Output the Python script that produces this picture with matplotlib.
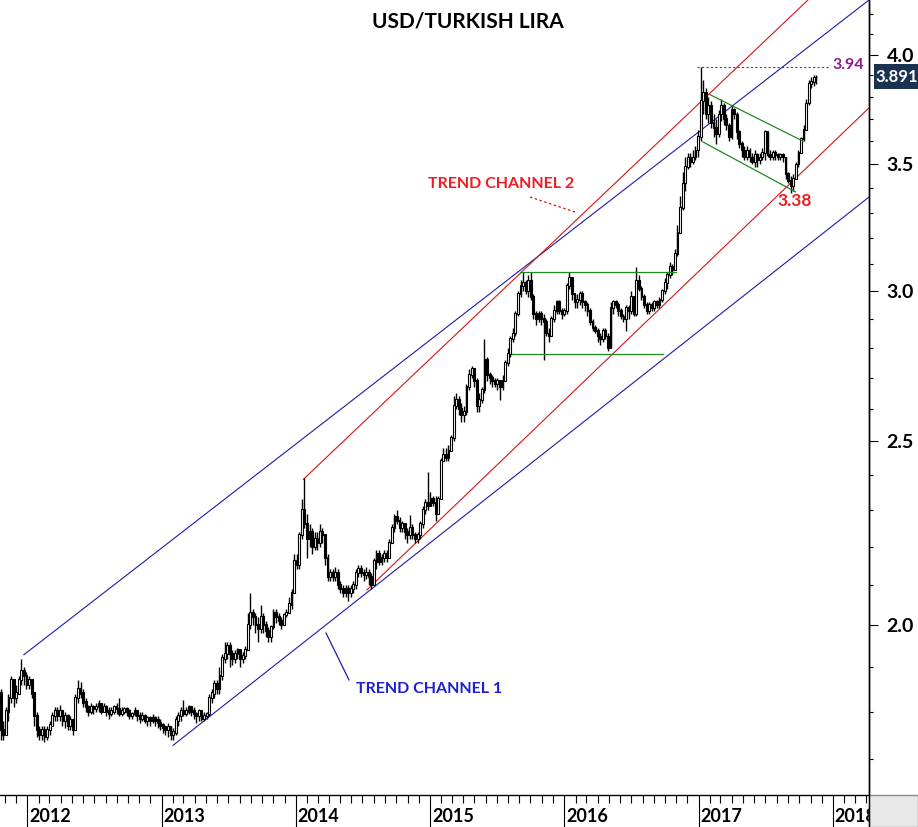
import matplotlib
matplotlib.use("Agg")
import matplotlib.pyplot as plt
import matplotlib.dates as mdates
from matplotlib.lines import Line2D
from matplotlib.patches import Rectangle
from matplotlib.ticker import FixedLocator, FuncFormatter, NullFormatter
import numpy as np
import pandas as pd

plt.rcParams['font.family'] = ['Lato', 'DejaVu Sans']
plt.rcParams['font.weight'] = 'bold'

# weekly USD/TRY candles, first week ending 2011-10-21
first_week = "2011-10-21"
first_open = 1.84
closes = [
    1.76, 1.75, 1.80, 1.83, 1.87, 1.83, 1.84, 1.87, 1.89, 1.88,
    1.86, 1.87, 1.84, 1.79, 1.76, 1.75, 1.76, 1.745, 1.76, 1.77,
    1.79, 1.80, 1.79, 1.80, 1.78, 1.79, 1.77, 1.78, 1.76, 1.83,
    1.85, 1.84, 1.82, 1.81, 1.80, 1.81, 1.805, 1.81, 1.815, 1.80,
    1.81, 1.80, 1.795, 1.80, 1.81, 1.805, 1.795, 1.80, 1.805, 1.80,
    1.79, 1.795, 1.80, 1.79, 1.785, 1.79, 1.78, 1.785, 1.78, 1.785,
    1.78, 1.775, 1.77, 1.765, 1.76, 1.765, 1.75, 1.755, 1.78, 1.79,
    1.80, 1.795, 1.80, 1.81, 1.80, 1.795, 1.79, 1.80, 1.785, 1.79,
    1.795, 1.83, 1.84, 1.86, 1.85, 1.88, 1.92, 1.93, 1.95, 1.93,
    1.92, 1.93, 1.94, 1.92, 1.925, 1.94, 2.00, 2.03, 2.02, 2.00,
    1.99, 2.02, 2.00, 1.985, 1.97, 1.995, 2.03, 2.02, 2.01, 2.00,
    2.025, 2.03, 2.05, 2.08, 2.16, 2.15, 2.23, 2.30, 2.26, 2.22,
    2.24, 2.20, 2.22, 2.21, 2.24, 2.23, 2.17, 2.12, 2.13, 2.12,
    2.13, 2.10, 2.09, 2.08, 2.09, 2.08, 2.09, 2.10, 2.13, 2.14,
    2.13, 2.125, 2.13, 2.12, 2.10, 2.16, 2.18, 2.16, 2.17, 2.18,
    2.17, 2.21, 2.25, 2.28, 2.27, 2.25, 2.26, 2.24, 2.23, 2.25,
    2.23, 2.22, 2.23, 2.26, 2.30, 2.32, 2.31, 2.33, 2.32, 2.29,
    2.33, 2.44, 2.46, 2.45, 2.47, 2.51, 2.61, 2.63, 2.60, 2.58,
    2.59, 2.67, 2.71, 2.73, 2.69, 2.61, 2.63, 2.66, 2.76, 2.71,
    2.70, 2.69, 2.68, 2.69, 2.67, 2.69, 2.75, 2.78, 2.83, 2.85,
    2.92, 2.99, 3.02, 3.03, 3.00, 3.04, 2.98, 2.92, 2.90, 2.92,
    2.90, 2.89, 2.85, 2.84, 2.90, 2.93, 2.96, 2.93, 2.92, 2.93,
    3.02, 3.05, 2.99, 2.96, 2.97, 2.99, 2.96, 2.95, 2.93, 2.89,
    2.87, 2.86, 2.84, 2.83, 2.86, 2.84, 2.80, 2.94, 2.96, 2.95,
    2.93, 2.91, 2.90, 2.94, 2.93, 2.98, 2.92, 3.04, 3.01, 2.98,
    2.95, 2.93, 2.95, 2.94, 2.96, 2.95, 2.97, 3.00, 3.03, 3.06,
    3.09, 3.08, 3.14, 3.22, 3.32, 3.42, 3.49, 3.53, 3.51, 3.53,
    3.56, 3.62, 3.78, 3.82, 3.72, 3.76, 3.68, 3.66, 3.63, 3.72,
    3.76, 3.70, 3.67, 3.62, 3.74, 3.72, 3.64, 3.59, 3.56, 3.53,
    3.56, 3.53, 3.51, 3.54, 3.52, 3.53, 3.55, 3.64, 3.54, 3.53,
    3.55, 3.54, 3.53, 3.54, 3.53, 3.46, 3.43, 3.41, 3.44, 3.50,
    3.55, 3.61, 3.65, 3.77, 3.86, 3.87, 3.89, 3.891,
]
highs = [
    1.85, 1.78, 1.81, 1.84, 1.88, 1.87, 1.86, 1.88, 1.92, 1.90,
    1.89, 1.88, 1.87, 1.84, 1.80, 1.77, 1.77, 1.77, 1.77, 1.78,
    1.80, 1.81, 1.81, 1.815, 1.80, 1.80, 1.795, 1.79, 1.785, 1.84,
    1.87, 1.865, 1.85, 1.83, 1.815, 1.82, 1.815, 1.82, 1.825, 1.82,
    1.82, 1.815, 1.81, 1.81, 1.815, 1.82, 1.83, 1.81, 1.81, 1.81,
    1.805, 1.80, 1.81, 1.80, 1.80, 1.80, 1.795, 1.79, 1.79, 1.795,
    1.79, 1.79, 1.785, 1.775, 1.77, 1.775, 1.77, 1.765, 1.79, 1.80,
    1.81, 1.825, 1.81, 1.815, 1.81, 1.81, 1.80, 1.805, 1.80, 1.80,
    1.80, 1.84, 1.85, 1.87, 1.87, 1.90, 1.93, 1.96, 1.96, 1.96,
    1.94, 1.94, 1.945, 1.94, 1.935, 1.95, 2.03, 2.08, 2.04, 2.03,
    2.02, 2.05, 2.03, 2.01, 1.995, 2.00, 2.04, 2.04, 2.03, 2.02,
    2.03, 2.04, 2.07, 2.09, 2.18, 2.18, 2.24, 2.33, 2.39, 2.29,
    2.26, 2.25, 2.24, 2.24, 2.26, 2.25, 2.23, 2.18, 2.14, 2.14,
    2.145, 2.14, 2.11, 2.10, 2.10, 2.10, 2.10, 2.11, 2.14, 2.15,
    2.15, 2.14, 2.145, 2.14, 2.13, 2.17, 2.19, 2.19, 2.18, 2.19,
    2.19, 2.22, 2.26, 2.29, 2.30, 2.28, 2.27, 2.26, 2.25, 2.285,
    2.26, 2.24, 2.24, 2.27, 2.31, 2.33, 2.41, 2.35, 2.34, 2.34,
    2.34, 2.45, 2.48, 2.48, 2.49, 2.52, 2.64, 2.65, 2.64, 2.62,
    2.61, 2.68, 2.73, 2.74, 2.73, 2.70, 2.65, 2.67, 2.83, 2.77,
    2.72, 2.71, 2.70, 2.70, 2.69, 2.71, 2.76, 2.80, 2.84, 2.87,
    2.93, 3.00, 3.04, 3.07, 3.04, 3.06, 3.07, 2.99, 2.93, 2.93,
    2.93, 2.92, 2.90, 2.87, 2.91, 2.95, 2.97, 2.97, 2.94, 2.94,
    3.03, 3.07, 3.05, 2.99, 2.99, 3.00, 3.00, 2.97, 2.96, 2.94,
    2.90, 2.88, 2.87, 2.85, 2.87, 2.87, 2.85, 2.96, 2.97, 2.97,
    2.96, 2.94, 2.92, 2.95, 2.95, 3.00, 2.97, 3.09, 3.06, 3.02,
    2.99, 2.96, 2.96, 2.96, 2.97, 2.97, 2.98, 3.01, 3.05, 3.07,
    3.11, 3.10, 3.16, 3.25, 3.37, 3.47, 3.53, 3.55, 3.55, 3.56,
    3.58, 3.65, 3.94, 3.88, 3.84, 3.80, 3.78, 3.72, 3.70, 3.74,
    3.79, 3.77, 3.72, 3.68, 3.76, 3.75, 3.73, 3.65, 3.60, 3.58,
    3.58, 3.57, 3.55, 3.56, 3.55, 3.55, 3.57, 3.65, 3.64, 3.56,
    3.56, 3.56, 3.55, 3.55, 3.55, 3.53, 3.47, 3.45, 3.46, 3.51,
    3.56, 3.62, 3.67, 3.79, 3.88, 3.89, 3.90, 3.90,
]
lows = [
    1.74, 1.74, 1.75, 1.78, 1.82, 1.81, 1.82, 1.84, 1.86, 1.86,
    1.85, 1.85, 1.83, 1.77, 1.745, 1.74, 1.74, 1.735, 1.74, 1.75,
    1.77, 1.78, 1.78, 1.78, 1.77, 1.765, 1.76, 1.76, 1.75, 1.76,
    1.82, 1.83, 1.81, 1.80, 1.79, 1.795, 1.795, 1.80, 1.80, 1.795,
    1.80, 1.79, 1.785, 1.79, 1.795, 1.795, 1.79, 1.79, 1.795, 1.79,
    1.785, 1.785, 1.79, 1.78, 1.775, 1.78, 1.775, 1.77, 1.77, 1.775,
    1.77, 1.765, 1.76, 1.755, 1.75, 1.745, 1.74, 1.74, 1.75, 1.77,
    1.78, 1.79, 1.79, 1.795, 1.79, 1.785, 1.775, 1.78, 1.78, 1.78,
    1.785, 1.79, 1.82, 1.83, 1.84, 1.84, 1.87, 1.91, 1.92, 1.90,
    1.905, 1.91, 1.92, 1.90, 1.91, 1.92, 1.94, 1.99, 2.00, 1.98,
    1.96, 1.98, 1.98, 1.97, 1.96, 1.96, 1.99, 2.005, 2.00, 1.99,
    2.00, 2.02, 2.03, 2.04, 2.08, 2.14, 2.14, 2.22, 2.25, 2.17,
    2.20, 2.18, 2.19, 2.19, 2.20, 2.21, 2.15, 2.11, 2.11, 2.11,
    2.11, 2.09, 2.08, 2.07, 2.07, 2.06, 2.07, 2.08, 2.09, 2.12,
    2.12, 2.11, 2.115, 2.10, 2.09, 2.10, 2.14, 2.15, 2.15, 2.16,
    2.16, 2.17, 2.21, 2.24, 2.26, 2.24, 2.24, 2.22, 2.21, 2.22,
    2.22, 2.21, 2.21, 2.22, 2.25, 2.29, 2.30, 2.31, 2.31, 2.27,
    2.29, 2.33, 2.44, 2.44, 2.44, 2.47, 2.50, 2.60, 2.58, 2.56,
    2.56, 2.58, 2.66, 2.70, 2.67, 2.59, 2.59, 2.62, 2.65, 2.69,
    2.68, 2.67, 2.67, 2.66, 2.63, 2.66, 2.69, 2.74, 2.77, 2.82,
    2.84, 2.91, 2.98, 3.00, 2.99, 2.98, 2.97, 2.90, 2.88, 2.89,
    2.88, 2.76, 2.84, 2.82, 2.84, 2.89, 2.92, 2.92, 2.90, 2.91,
    2.92, 3.01, 2.97, 2.94, 2.94, 2.95, 2.94, 2.93, 2.91, 2.88,
    2.86, 2.85, 2.82, 2.81, 2.82, 2.83, 2.79, 2.80, 2.92, 2.94,
    2.91, 2.90, 2.89, 2.86, 2.90, 2.92, 2.91, 2.91, 3.00, 2.97,
    2.94, 2.92, 2.92, 2.93, 2.93, 2.94, 2.94, 2.96, 2.99, 3.01,
    3.05, 3.06, 3.08, 3.13, 3.22, 3.31, 3.39, 3.48, 3.49, 3.50,
    3.52, 3.53, 3.60, 3.72, 3.70, 3.68, 3.66, 3.62, 3.59, 3.62,
    3.69, 3.67, 3.65, 3.60, 3.61, 3.70, 3.61, 3.57, 3.53, 3.52,
    3.52, 3.51, 3.50, 3.49, 3.49, 3.50, 3.52, 3.52, 3.53, 3.52,
    3.52, 3.52, 3.52, 3.52, 3.51, 3.44, 3.42, 3.38, 3.39, 3.44,
    3.49, 3.55, 3.60, 3.65, 3.76, 3.84, 3.85, 3.86,
]

# trend lines: (start date, start price, end date, end price)
blue_lines = [
    ("2011-12-23", 1.929, "2018-04-09", 4.274),
    ("2013-02-01", 1.728, "2018-04-09", 3.364),
]
red_lines = [
    ("2014-01-21", 2.387, "2018-04-09", 4.586),
    ("2014-07-13", 2.087, "2018-04-09", 3.749),
]
green_lines = [
    ("2015-09-02", 3.07, "2016-10-31", 3.07),
    ("2015-08-11", 2.78, "2016-09-26", 2.78),
    ("2017-01-31", 3.81, "2017-10-12", 3.60),
    ("2017-01-12", 3.597, "2017-09-21", 3.385),
]
peak_level = ("2016-12-27", "2017-12-21", 3.94)
last_close = closes[-1]

y_major = [2.0, 2.5, 3.0, 3.5, 4.0]
y_minor = [round(1.7 + 0.1 * i, 1) for i in range(26)]
year_labels = [2012, 2013, 2014, 2015, 2016, 2017, 2018]

W, H = 918, 827


def fx(x):
    return x / W


def fy(y):
    return 1 - y / H


fig = plt.figure(figsize=(W / 100, H / 100), dpi=100)
ax = fig.add_axes([0, 32 / H, 869 / W, 795 / H])

dates = pd.date_range(first_week, periods=len(closes), freq="7D")
c = np.array(closes)
o = np.concatenate([[first_open], c[:-1]])
h = np.maximum(np.array(highs), np.maximum(o, c))
l = np.minimum(np.array(lows), np.minimum(o, c))

ax.vlines(dates, l, h, color="black", linewidth=1.0, zorder=3)
up = c >= o
ax.bar(dates, np.abs(c - o) + 0.003, bottom=np.minimum(o, c), width=5,
       color=np.where(up, "white", "black"), edgecolor="black",
       linewidth=0.8, zorder=4)

for d1, p1, d2, p2 in blue_lines:
    ax.plot([pd.Timestamp(d1), pd.Timestamp(d2)], [p1, p2], color="#1c1caa", lw=0.8, zorder=2)
for d1, p1, d2, p2 in red_lines:
    ax.plot([pd.Timestamp(d1), pd.Timestamp(d2)], [p1, p2], color="#d81414", lw=0.8, zorder=2)
for d1, p1, d2, p2 in green_lines:
    ax.plot([pd.Timestamp(d1), pd.Timestamp(d2)], [p1, p2], color="#1e8c1e", lw=0.9, zorder=5)
ax.plot([pd.Timestamp(peak_level[0]), pd.Timestamp(peak_level[1])],
        [peak_level[2], peak_level[2]], color="#8b1a8b", lw=0.8,
        linestyle=(0, (2, 2)), zorder=5)

ax.set_yscale("log")
ax.set_ylim(1.6267, 4.274)
ax.set_xlim(pd.Timestamp("2011-10-19"), pd.Timestamp("2018-04-09"))

for side in ["top", "left"]:
    ax.spines[side].set_visible(False)
ax.spines["right"].set_linewidth(1.0)
ax.spines["bottom"].set_linewidth(1.0)

ax.yaxis.tick_right()
ax.yaxis.set_major_locator(FixedLocator(y_major))
ax.yaxis.set_minor_locator(FixedLocator(y_minor))
ax.yaxis.set_major_formatter(FuncFormatter(lambda v, _: f"{v:.1f}"))
ax.yaxis.set_minor_formatter(NullFormatter())
ax.tick_params(axis="y", which="major", direction="out", length=6.5, width=0.8,
               pad=6, labelsize=14)
ax.tick_params(axis="y", which="minor", direction="out", length=3, width=0.8)

ax.xaxis.set_major_locator(mdates.YearLocator())
ax.xaxis.set_minor_locator(mdates.MonthLocator())
ax.xaxis.set_major_formatter(NullFormatter())
ax.tick_params(axis="x", which="major", direction="out", length=24, width=0.8)
ax.tick_params(axis="x", which="minor", direction="out", length=5.8, width=0.8)

# bottom strip for year labels, clipped at the price axis
ax2 = fig.add_axes([0, 0, 869 / W, 32 / H])
ax2.set_xlim(ax.get_xlim())
ax2.set_ylim(0, 1)
ax2.axis("off")
for yr in year_labels:
    ax2.text(pd.Timestamp(f"{yr}-01-01") + pd.Timedelta(days=5), 0.33, str(yr),
             ha="left", va="center", fontsize=13, fontweight="bold", clip_on=True)

# right axis line runs down to the bottom, grey corner box
fig.add_artist(Rectangle((fx(869), 0), fx(49), 32 / H, transform=fig.transFigure,
                         facecolor="#e8e8e8", edgecolor="#8c8c8c", lw=1))
fig.add_artist(Line2D([fx(869), fx(869)], [0, 1], transform=fig.transFigure,
                      color="black", lw=1.0))

# last price box
fig.add_artist(Rectangle((fx(874), fy(89)), fx(46), 25 / H, transform=fig.transFigure,
                         facecolor="#1b3350", edgecolor="none"))
fig.text(fx(875), fy(77), f"{last_close:.3f}", color="white", fontsize=12,
         fontweight="bold", ha="left", va="center")

fig.text(fx(468), fy(21), "USD/TURKISH LIRA", fontsize=15, fontweight="bold",
         ha="center", va="center")
fig.text(fx(501), fy(184), "TREND CHANNEL 2", fontsize=11.5, fontweight="bold",
         color="#ee1c25", ha="center", va="center")
fig.text(fx(429), fy(689), "TREND CHANNEL 1", fontsize=11.5, fontweight="bold",
         color="#1f1fd0", ha="center", va="center")
fig.text(fx(795), fy(201), "3.38", fontsize=12.5, fontweight="bold",
         color="#ee1c25", ha="center", va="center")
fig.text(fx(848), fy(65), "3.94", fontsize=11.5, fontweight="bold",
         color="#8b1a8b", ha="center", va="center")

fig.add_artist(Line2D([fx(530), fx(575)], [fy(197), fy(212)], transform=fig.transFigure,
                      color="#d81414", lw=0.9, linestyle=(0, (2, 2))))
fig.add_artist(Line2D([fx(326), fx(349)], [fy(633), fy(680)], transform=fig.transFigure,
                      color="#1c1caa", lw=0.9))

fig.savefig("out.png", dpi=100)
